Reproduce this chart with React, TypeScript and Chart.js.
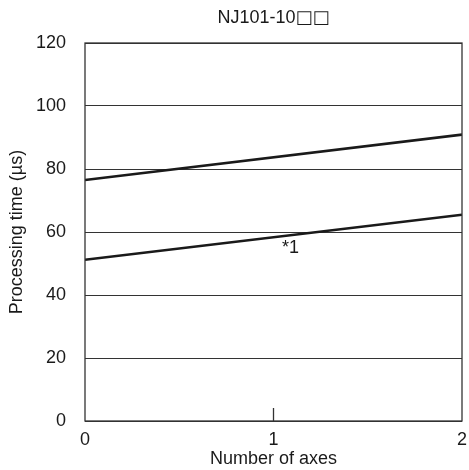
import React, { useEffect, useRef } from "react";
import { Chart, registerables } from "chart.js";

Chart.register(...registerables);

const chartTitleMain = "NJ101-10";
const chartTitleBoxes = "□□";
const xTitle = "Number of axes";
const yTitle = "Processing time (µs)";
const axisCounts = [0, 2];
const upperLine = [76.5, 90.9];
const lowerLine = [51.2, 65.5];
const xTicks = [0, 1, 2];
const yTicks = [0, 20, 40, 60, 80, 100, 120];
const noteText = "*1";
const noteAt = { x: 1.045, y: 54.8 };
const markTickAt = 1;

const FONT = "'Liberation Sans', Arial, Helvetica, sans-serif";
const BOX_FONT = "'DejaVu Sans', sans-serif";
const INK = "#1a1a1a";
const FS = 18;

const framePlugin = {
  id: "frame",
  afterDraw(chart: any) {
    const { ctx, chartArea } = chart;
    const xs = chart.scales.x;
    const ys = chart.scales.y;
    ctx.save();
    ctx.strokeStyle = "#333";
    ctx.lineWidth = 1.3;
    ctx.strokeRect(chartArea.left, chartArea.top, chartArea.right - chartArea.left, chartArea.bottom - chartArea.top);
    const px = xs.getPixelForValue(markTickAt);
    ctx.beginPath();
    ctx.moveTo(px, chartArea.bottom);
    ctx.lineTo(px, chartArea.bottom - 13);
    ctx.stroke();
    // title in two runs so the boxes use a larger glyph
    ctx.fillStyle = INK;
    ctx.textBaseline = "middle";
    ctx.textAlign = "left";
    ctx.font = `${FS}px ${FONT}`;
    const w1 = ctx.measureText(chartTitleMain).width;
    ctx.font = `${FS}px ${BOX_FONT}`;
    const w2 = ctx.measureText(chartTitleBoxes).width;
    const startX = (chartArea.left + chartArea.right) / 2 - (w1 + w2) / 2;
    ctx.font = `${FS}px ${FONT}`;
    ctx.fillText(chartTitleMain, startX, 18);
    ctx.font = `${FS}px ${BOX_FONT}`;
    ctx.fillText(chartTitleBoxes, startX + w1, 18);
    ctx.font = `${FS}px ${FONT}`;
    ctx.fillText(noteText, xs.getPixelForValue(noteAt.x), ys.getPixelForValue(noteAt.y));
    ctx.restore();
  },
};

export default function App() {
  const ref = useRef<HTMLCanvasElement>(null);
  useEffect(() => {
    if (!ref.current) return;
    const chart = new Chart(ref.current, {
      type: "line",
      data: {
        datasets: [
          {
            data: axisCounts.map((x, i) => ({ x, y: upperLine[i] })),
            borderColor: INK,
            borderWidth: 2.6,
            pointRadius: 0,
            fill: false,
          },
          {
            data: axisCounts.map((x, i) => ({ x, y: lowerLine[i] })),
            borderColor: INK,
            borderWidth: 2.6,
            pointRadius: 0,
            fill: false,
          },
        ],
      },
      options: {
        animation: false,
        responsive: true,
        maintainAspectRatio: false,
        layout: { padding: { top: 43, right: 7, left: 0, bottom: 0 } },
        plugins: { legend: { display: false }, tooltip: { enabled: false }, title: { display: false } },
        scales: {
          x: {
            type: "linear",
            min: 0,
            max: 2,
            afterFit: (s: any) => { s.height = 49; s.paddingLeft = 0; s.paddingRight = 0; },
            afterBuildTicks: (s: any) => { s.ticks = xTicks.map((v) => ({ value: v })); },
            grid: { display: false, drawTicks: false },
            border: { display: false },
            ticks: { color: INK, font: { family: FONT, size: FS }, padding: 8 },
            title: { display: true, text: xTitle, color: INK, font: { family: FONT, size: FS }, padding: { top: 0, bottom: 0 } },
          },
          y: {
            min: 0,
            max: 120,
            afterFit: (s: any) => { s.width = 85; s.paddingTop = 0; s.paddingBottom = 0; },
            afterBuildTicks: (s: any) => { s.ticks = yTicks.map((v) => ({ value: v })); },
            grid: { color: "#333", lineWidth: 1, drawTicks: false },
            border: { display: false },
            ticks: { color: INK, font: { family: FONT, size: FS }, padding: 19 },
            title: { display: true, text: yTitle, color: INK, font: { family: FONT, size: FS }, padding: { top: 6.2, bottom: 0 } },
          },
        },
      },
      plugins: [framePlugin],
    });
    return () => chart.destroy();
  }, []);
  return (
    <div style={{ position: "absolute", left: 0, top: 0, width: 469, height: 470, background: "#fff" }}>
      <canvas ref={ref} />
    </div>
  );
}
